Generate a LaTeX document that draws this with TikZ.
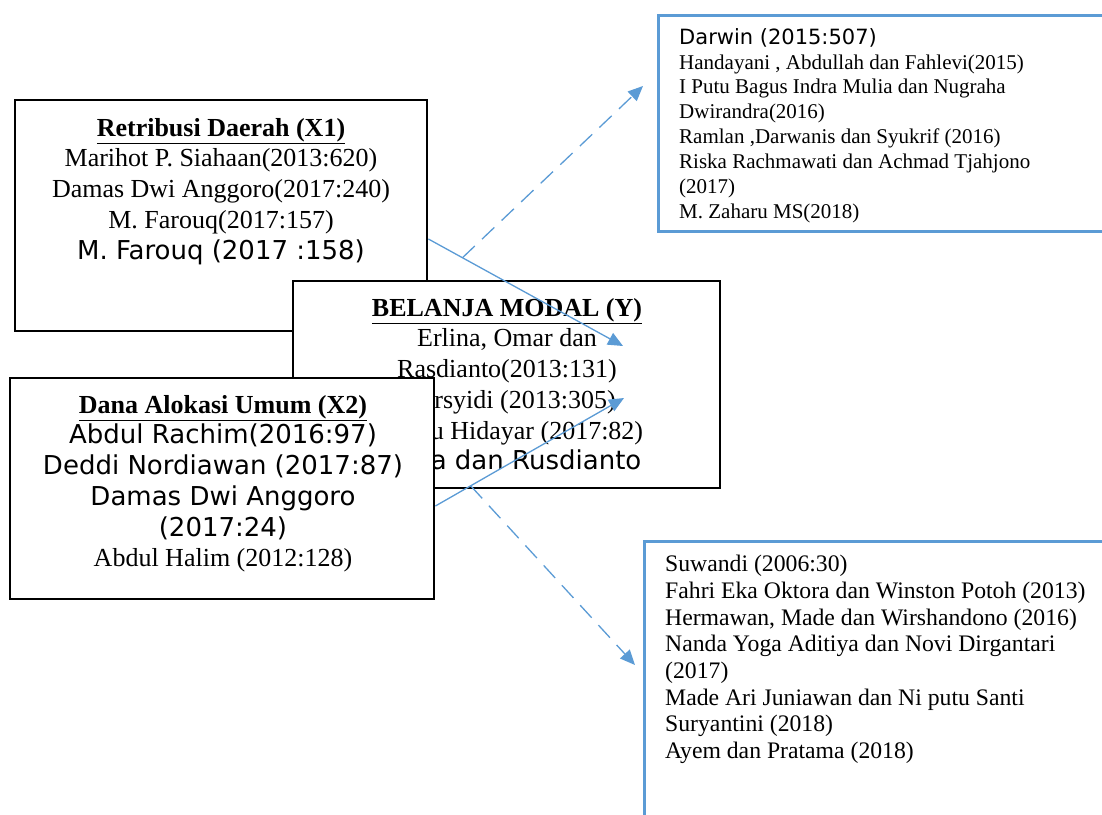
\documentclass[tikz,border=0pt]{standalone}
\usepackage{fontspec}
\setmainfont{Liberation Serif}
\newfontfamily\dejavu{DejaVu Sans}
\usetikzlibrary{calc,arrows.meta}
\definecolor{linkblue}{RGB}{91,155,213}

\begin{document}
\begin{tikzpicture}[x=1pt,y=-1pt,
      varbox/.style={draw=black,line width=2.8pt,fill=white,inner sep=0pt},
      refbox/.style={draw=linkblue,line width=2.8pt,fill=white,inner sep=0pt},
      vartext/.style={anchor=north,align=center,inner sep=0pt,font=\fontsize{26}{30.7}\selectfont},
      reftext/.style={anchor=north west,align=left,inner sep=0pt},
      link/.style={draw=linkblue,line width=1.3pt,-{Triangle[length=15pt,width=13pt]}},
      modlink/.style={link,dash pattern=on 17pt off 10pt}]
      \useasboundingbox (0,0) rectangle (1102,814);
      \clip (0,0) rectangle (1102,814);
      \node[refbox,anchor=north west,minimum width=470,minimum height=216] (refa) at (657,14) {};
      \node[reftext,font=\fontsize{21}{24.9}\selectfont] (refatxt) at (679,28) {{\dejavu Darwin (2015:507)}\\Handayani , Abdullah dan Fahlevi(2015)\\I Putu Bagus Indra Mulia dan Nugraha\\Dwirandra(2016)\\Ramlan ,Darwanis dan Syukrif (2016)\\Riska Rachmawati dan Achmad Tjahjono\\(2017)\\M. Zaharu MS(2018)};
      \node[refbox,anchor=north west,minimum width=480,minimum height=300] (refb) at (643,540) {};
      \node[reftext,font=\fontsize{23.7}{26.7}\selectfont] (refbtxt) at (665,555) {Suwandi (2006:30)\\Fahri Eka Oktora dan Winston Potoh (2013)\\Hermawan, Made dan Wirshandono (2016)\\Nanda Yoga Aditiya dan Novi Dirgantari\\(2017)\\Made Ari Juniawan dan Ni putu Santi\\Suryantini (2018)\\Ayem dan Pratama (2018)};
      \node[varbox,minimum width=412,minimum height=231] (x1) at (221,215.5) {};
      \node[vartext] (x1txt) at (221,118) {\underline{\textbf{Retribusi Daerah (X1)}}\\Marihot P. Siahaan(2013:620)\\Damas Dwi Anggoro(2017:240)\\M. Farouq(2017:157)\\{\dejavu M. Farouq (2017 :158)}};
      \node[varbox,minimum width=427,minimum height=207] (y) at (506.5,384.5) {};
      \node[vartext] (ytxt) at (507,298) {\underline{\textbf{BELANJA MODAL (Y)}}\\Erlina, Omar dan\\Rasdianto(2013:131)\\Mursyidi (2013:305)\\Wahyu Hidayar (2017:82)\\{\dejavu Erlina dan Rusdianto}};
      \node[varbox,minimum width=424,minimum height=221] (x2) at (222,488.5) {};
      \node[vartext] (x2txt) at (223,395) {\underline{\textbf{Dana Alokasi Umum (X2)}}\\{\dejavu Abdul Rachim(2016:97)}\\{\dejavu Deddi Nordiawan (2017:87)}\\{\dejavu Damas Dwi Anggoro}\\{\dejavu (2017:24)}\\Abdul Halim (2012:128)};
      \coordinate (s1) at ([yshift=-23.5pt]x1.east);
      \coordinate (s2) at ([yshift=-17.5pt]x2.east);
      \coordinate (t1) at (623,346);
      \coordinate (t2) at (624,398);
      \coordinate (t3) at (643,86);
      \coordinate (t4) at (635,665);
      \draw[link] (s1) -- (t1);
      \draw[link] (s2) -- (t2);
      \draw[modlink] ($(s1)!0.175!(t1)$) -- (t3);
      \draw[modlink] ($(s2)!0.187!(t2)$) -- (t4);
\end{tikzpicture}
\end{document}
